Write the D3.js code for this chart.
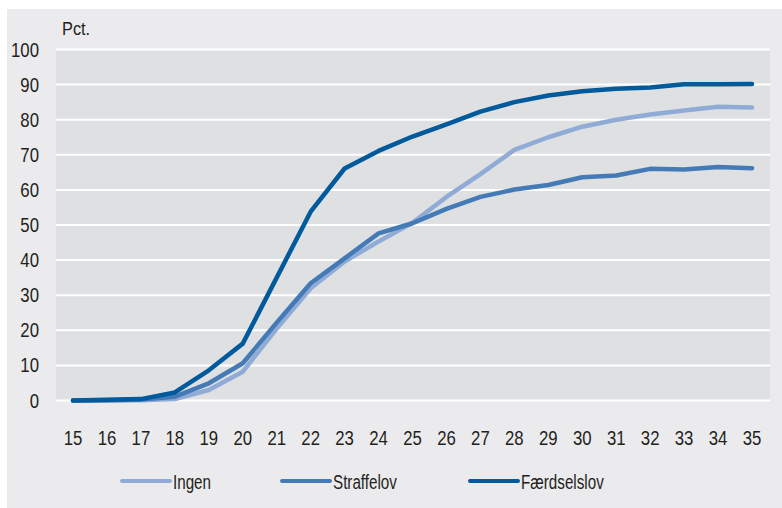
<!DOCTYPE html>
<html>
<head>
<meta charset="utf-8">
<script src="https://cdn.jsdelivr.net/npm/d3@7"></script>
<style>
  body { margin: 0; background: #fff; }
  svg text { font-family: "Liberation Sans", Arial, sans-serif; fill: #231f20; }
</style>
</head>
<body>
<svg id="chart" width="782" height="508"></svg>
<script>
// ages on the x axis
var ages = [15, 16, 17, 18, 19, 20, 21, 22, 23, 24, 25, 26, 27, 28, 29, 30, 31, 32, 33, 34, 35];
var yTicks = [0, 10, 20, 30, 40, 50, 60, 70, 80, 90, 100];

// pct per age
var ingen = [0, 0, 0.1, 0.4, 3, 8.2, 20.5, 32, 39.6, 45.3, 50.6, 58, 64.5, 71.4, 75, 78, 80, 81.5, 82.6, 83.7, 83.5];
var straffelov = [0, 0.1, 0.3, 1.1, 4.9, 10.6, 22.2, 33.4, 40.5, 47.6, 50.5, 54.6, 58, 60.1, 61.4, 63.6, 64.1, 66, 65.8, 66.5, 66.2];
var faerdselslov = [0, 0.2, 0.4, 2.3, 8.6, 16.2, 35, 53.8, 66.1, 71.1, 75.2, 78.7, 82.3, 85, 86.9, 88.1, 88.8, 89.2, 90.1, 90.1, 90.2];

var seriesNames = ["Ingen", "Straffelov", "Færdselslov"];
var seriesColors = ["#8fabd6", "#447bb6", "#005a9c"];
var seriesData = [ingen, straffelov, faerdselslov];

// condensed look: squeeze the text horizontally
var digitSqueeze = 0.86, wordSqueeze = 0.78;

var svg = d3.select("#chart");

// outer panel
svg.append("rect")
  .attr("x", 7).attr("y", 9)
  .attr("width", 775).attr("height", 499)
  .attr("fill", "#ebebed");

var plotLeft = 56, plotRight = 770;

var x = d3.scaleLinear()
  .domain([15, 35])
  .range([73, 752]);

var y = d3.scaleLinear()
  .domain([0, 100])
  .range([400.5, 49.5]);

// plot background
svg.append("rect")
  .attr("x", plotLeft).attr("y", y(100))
  .attr("width", plotRight - plotLeft).attr("height", y(0) - y(100))
  .attr("fill", "#dfe0e2");

// gridlines
svg.append("g")
  .selectAll("line")
  .data(yTicks)
  .enter()
  .append("line")
    .attr("x1", plotLeft).attr("x2", plotRight)
    .attr("y1", function(d) { return y(d); })
    .attr("y2", function(d) { return y(d); })
    .attr("stroke", "#ffffff")
    .attr("stroke-width", 2);

// y tick labels
svg.append("g")
  .selectAll("text")
  .data(yTicks)
  .enter()
  .append("text")
    .attr("transform", function(d) {
      return "translate(39," + (y(d) + 7) + ") scale(" + digitSqueeze + ",1)";
    })
    .attr("text-anchor", "end")
    .style("font-size", "19.5px")
    .text(function(d) { return d; });

// x tick labels
svg.append("g")
  .selectAll("text")
  .data(ages)
  .enter()
  .append("text")
    .attr("transform", function(d) {
      return "translate(" + x(d) + ",445) scale(" + digitSqueeze + ",1)";
    })
    .attr("text-anchor", "middle")
    .style("font-size", "19.5px")
    .text(function(d) { return d; });

svg.append("text")
  .attr("transform", "translate(62,35) scale(" + digitSqueeze + ",1)")
  .style("font-size", "19px")
  .text("Pct.");

// lines
var line = d3.line()
  .x(function(d, i) { return x(ages[i]); })
  .y(function(d) { return y(d); });

svg.append("g")
  .selectAll("path")
  .data(seriesData)
  .enter()
  .append("path")
    .attr("d", line)
    .attr("fill", "none")
    .attr("stroke", function(d, i) { return seriesColors[i]; })
    .attr("stroke-width", 4.5)
    .attr("stroke-linejoin", "round")
    .attr("stroke-linecap", "round");

// legend
var legendX = [122, 282, 470];
var legend = svg.append("g")
  .selectAll("g")
  .data(seriesNames)
  .enter()
  .append("g")
    .attr("transform", function(d, i) { return "translate(" + legendX[i] + ",481)"; });

legend.append("line")
  .attr("x1", 0).attr("x2", 48)
  .attr("stroke", function(d, i) { return seriesColors[i]; })
  .attr("stroke-width", 4)
  .attr("stroke-linecap", "round");

legend.append("text")
  .attr("transform", "translate(51,8) scale(" + wordSqueeze + ",1)")
  .style("font-size", "19.5px")
  .text(function(d) { return d; });
</script>
</body>
</html>
